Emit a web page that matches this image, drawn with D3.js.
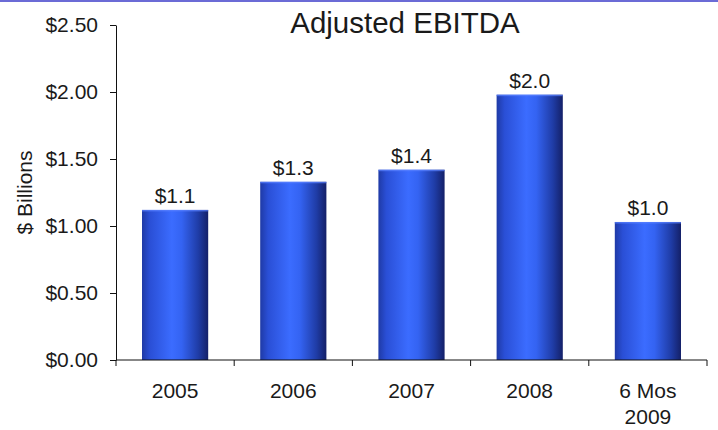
<!DOCTYPE html>
<html>
<head>
<meta charset="utf-8">
<script src="https://cdn.jsdelivr.net/npm/d3@7"></script>
<style>
  html, body { margin: 0; padding: 0; background: #ffffff; }
  svg { display: block; }
  text { font-family: "Liberation Sans", Arial, sans-serif; fill: #1a1a1a; }
</style>
</head>
<body>
<svg id="chart" width="718" height="430"></svg>
<script>
const categories = ["2005", "2006", "2007", "2008", "6 Mos\n2009"];
const values = [1.12, 1.33, 1.42, 1.98, 1.03];
const valueLabels = ["$1.1", "$1.3", "$1.4", "$2.0", "$1.0"];
const yTicks = [0, 0.5, 1.0, 1.5, 2.0, 2.5];
const title = "Adjusted EBITDA";
const yTitle = "$ Billions";

const svg = d3.select("#chart");
const W = 718, H = 430;
const m = { left: 116, right: 11, top: 25, bottom: 70 };

// top border line
svg.append("rect").attr("x", 0).attr("y", 0).attr("width", W).attr("height", 2).attr("fill", "#6b6bd6");

const defs = svg.append("defs");
const grad = defs.append("linearGradient").attr("id", "barGrad")
  .attr("x1", "0").attr("x2", "1").attr("y1", "0").attr("y2", "0");
[[0, "#1f3aa6"], [0.12, "#2a4fd6"], [0.45, "#3b6cff"], [0.6, "#3463f2"], [0.85, "#1f3ca6"], [1, "#142068"]]
  .forEach(([o, c]) => grad.append("stop").attr("offset", o).attr("stop-color", c));

const x = d3.scaleBand().domain(categories).range([m.left, W - m.right])
  .paddingInner(0.44).paddingOuter(0.22);
const y = d3.scaleLinear().domain([0, 2.5]).range([H - m.bottom, m.top]);

// bars
svg.selectAll("rect.bar").data(values).join("rect")
  .attr("class", "bar")
  .attr("x", (d, i) => x(categories[i]))
  .attr("y", d => y(d))
  .attr("width", x.bandwidth())
  .attr("height", d => y(0) - y(d))
  .attr("fill", "url(#barGrad)");

// bar top highlight
svg.selectAll("rect.hl").data(values).join("rect")
  .attr("class", "hl")
  .attr("x", (d, i) => x(categories[i]))
  .attr("y", d => y(d))
  .attr("width", x.bandwidth())
  .attr("height", 1.5)
  .attr("fill", "#5a82ff").attr("opacity", 0.7);

// value labels
svg.selectAll("text.val").data(values).join("text")
  .attr("class", "val")
  .attr("x", (d, i) => x(categories[i]) + x.bandwidth() / 2)
  .attr("y", d => y(d) - 7)
  .attr("text-anchor", "middle")
  .attr("font-size", 21)
  .text((d, i) => valueLabels[i]);

// y axis
const yAxis = d3.axisLeft(y).tickValues(yTicks).tickSize(6).tickSizeOuter(0).tickPadding(12)
  .tickFormat(d => "$" + d.toFixed(2));
const gy = svg.append("g").attr("transform", `translate(${m.left},0)`).call(yAxis);
gy.selectAll("text").attr("font-size", 21).attr("fill", "#1a1a1a").attr("font-family", "Liberation Sans, Arial, sans-serif");
gy.selectAll("line").attr("stroke", "#111");
gy.select(".domain").attr("stroke", "#111");

// x axis
const step = x.step();
const x0 = x.range()[0];
const gx = svg.append("g").attr("transform", `translate(0,${y(0)})`);
gx.append("line").attr("x1", x0).attr("x2", x.range()[1]).attr("y1", 0).attr("y2", 0).attr("stroke", "#111");
d3.range(categories.length + 1).forEach(i => {
  gx.append("line").attr("x1", x0 + i * step).attr("x2", x0 + i * step)
    .attr("y1", 0).attr("y2", 6).attr("stroke", "#111");
});
categories.forEach(c => {
  const t = gx.append("text").attr("text-anchor", "middle").attr("font-size", 21)
    .attr("x", x(c) + x.bandwidth() / 2).attr("y", 38);
  c.split("\n").forEach((ln, k) => {
    t.append("tspan").attr("x", x(c) + x.bandwidth() / 2).attr("dy", k === 0 ? 0 : 26).text(ln);
  });
});

// title
svg.append("text").attr("x", 405).attr("y", 33).attr("text-anchor", "middle")
  .attr("font-size", 29.5).attr("fill", "#000").text(title);

// y title
svg.append("text").attr("transform", `translate(32,${(y(0) + y(2.5)) / 2}) rotate(-90)`)
  .attr("text-anchor", "middle").attr("font-size", 21).text(yTitle);
</script>
</body>
</html>
